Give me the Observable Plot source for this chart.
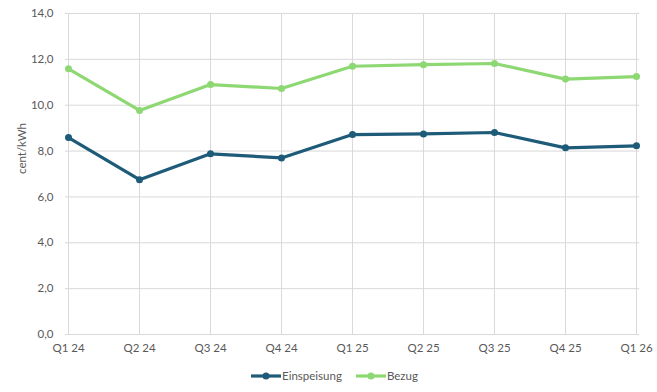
<!DOCTYPE html>
<html><head><meta charset="utf-8">
<script src="https://cdn.jsdelivr.net/npm/d3@7"></script>
<script src="https://cdn.jsdelivr.net/npm/@observablehq/plot@0.6"></script>
<style>
body{margin:0;background:#fff;font-family:Lato,sans-serif;}
#legend{display:flex;justify-content:center;gap:14px;font-size:11.5px;color:#595959;margin-left:12px;margin-top:9px;}
.it{display:flex;align-items:center;gap:1px;}
</style></head><body>
<div id="chart"></div>
<div id="legend"></div>
<script>
const quarters = ["Q1 24","Q2 24","Q3 24","Q4 24","Q1 25","Q2 25","Q3 25","Q4 25","Q1 26"];
const einspeisung = [8.59,6.75,7.88,7.70,8.72,8.75,8.81,8.14,8.23];
const bezug = [11.59,9.77,10.90,10.73,11.70,11.77,11.82,11.14,11.25];
const seriesNames = ["Einspeisung","Bezug"];
const colors = ["#1d5b79","#8ed873"];
const yTicks = [0,2,4,6,8,10,12,14];

const data = [];
quarters.forEach((q,i)=>{
  data.push({q, s:"Einspeisung", v:einspeisung[i]});
  data.push({q, s:"Bezug", v:bezug[i]});
});
const fmt = d => d.toFixed(1).replace(".", ",");

const chart = Plot.plot({
  width:657, height:360,
  marginLeft:65, marginRight:18, marginTop:13, marginBottom:26,
  style:{fontFamily:"Lato, sans-serif", fontSize:"11.5px", color:"#595959"},
  x:{type:"point", domain:quarters, padding:0, label:null, tickSize:0, tickPadding:8},
  y:{domain:[0,14], ticks:yTicks, tickFormat:fmt, label:null, tickSize:0, tickPadding:12},
  color:{domain:seriesNames, range:colors},
  marks:[
    Plot.gridY(yTicks,{stroke:"#d9d9d9", strokeOpacity:1, strokeWidth:1}),
    Plot.gridX(quarters,{stroke:"#d9d9d9", strokeOpacity:1, strokeWidth:1}),
    Plot.axisY({ticks:yTicks, tickFormat:fmt, tickSize:0, tickPadding:12, label:null, fill:"#595959"}),
    Plot.axisX({tickSize:0, tickPadding:9, label:null, fill:"#595959"}),
    Plot.text(["cent/kWh"],{frameAnchor:"left", dx:-43, rotate:-90, fill:"#595959", fontSize:11.5}),
    Plot.line(data,{x:"q", y:"v", stroke:"s", strokeWidth:3.2}),
    Plot.dot(data,{x:"q", y:"v", fill:"s", r:3.5})
  ]
});
document.getElementById("chart").appendChild(chart);

const lg = document.getElementById("legend");
seriesNames.forEach((n,i)=>{
  const it = document.createElement("div"); it.className="it";
  it.innerHTML = `<svg width="30" height="10"><line x1="0" y1="5" x2="30" y2="5" stroke="${colors[i]}" stroke-width="3.2"/><circle cx="15" cy="5" r="3.5" fill="${colors[i]}"/></svg><span>${n}</span>`;
  lg.appendChild(it);
});
</script>
</body></html>
